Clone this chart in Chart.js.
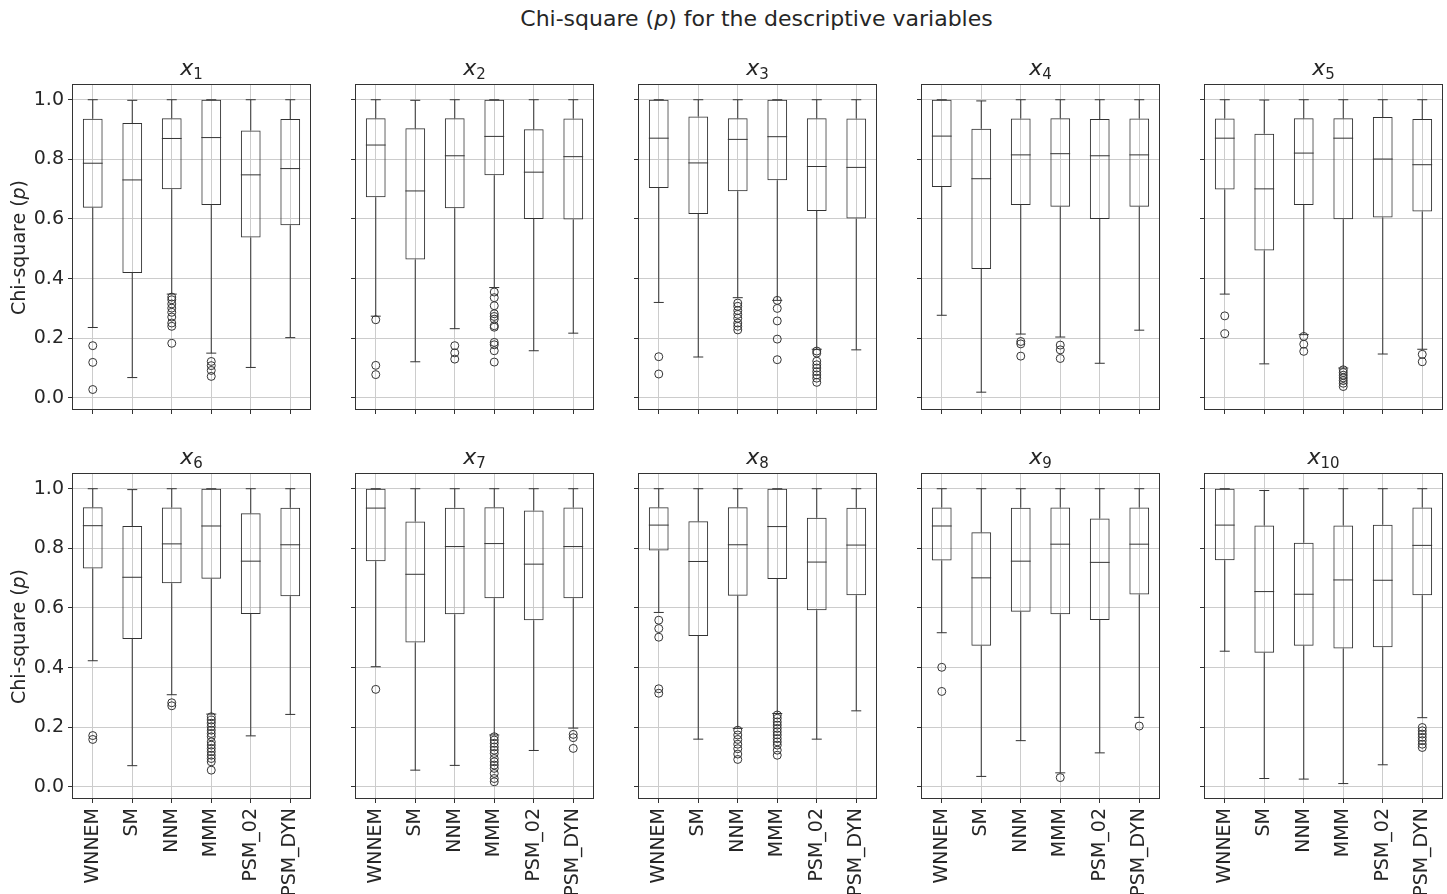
<!DOCTYPE html>
<html>
<head>
<meta charset="utf-8">
<script src="https://cdn.jsdelivr.net/npm/chart.js@4.4.1/dist/chart.umd.min.js"></script>
<style>
body { margin: 0; background: #fff; width: 1447px; height: 894px; position: relative; overflow: hidden; font-family: "DejaVu Sans", sans-serif; color: #262626; }
.panel { position: absolute; }
.sup { position: absolute; left: 0; width: 1513px; top: 8px; text-align: center; font-size: 22px; line-height: 22px; white-space: nowrap; }
.ttl { position: absolute; width: 237px; text-align: center; font-size: 22px; line-height: 22px; white-space: nowrap; }
.ttl sub { font-size: 15px; vertical-align: -4px; line-height: 0; }
.ylab { position: absolute; width: 220px; height: 19px; line-height: 19px; font-size: 19px; text-align: center; transform: rotate(-90deg); white-space: nowrap; }
</style>
</head>
<body>
<div class="sup">Chi-square (<i>p</i>) for the descriptive variables</div>
<div id="root"></div>
<script>
const methods = ['WNNEM', 'SM', 'NNM', 'MMM', 'PSM_02', 'PSM_DYN'];
const panelIdx = ['1', '2', '3', '4', '5', '6', '7', '8', '9', '10'];
const yTicks = [0.0, 0.2, 0.4, 0.6, 0.8, 1.0];

const whiskerHigh = [
  [1.0, 0.998, 1.0, 1.0, 1.0, 1.0],
  [1.0, 0.998, 1.0, 1.0, 1.0, 1.0],
  [1.0, 1.0, 1.0, 1.0, 1.0, 1.0],
  [1.0, 0.996, 1.0, 1.0, 1.0, 1.0],
  [1.0, 0.999, 1.0, 1.0, 1.0, 1.0],
  [1.0, 0.997, 1.0, 1.0, 1.0, 1.0],
  [1.0, 1.0, 1.0, 1.0, 1.0, 1.0],
  [1.0, 1.0, 1.0, 1.0, 1.0, 1.0],
  [1.0, 1.0, 1.0, 1.0, 1.0, 1.0],
  [1.0, 0.994, 1.0, 1.0, 1.0, 1.0]
];
const q3 = [
  [0.936, 0.922, 0.938, 1.0, 0.897, 0.935],
  [0.938, 0.904, 0.938, 1.0, 0.901, 0.937],
  [1.0, 0.944, 0.938, 1.0, 0.938, 0.937],
  [1.0, 0.903, 0.937, 0.938, 0.935, 0.937],
  [0.937, 0.886, 0.938, 0.938, 0.942, 0.935],
  [0.938, 0.875, 0.937, 1.0, 0.918, 0.936],
  [1.0, 0.890, 0.936, 0.938, 0.927, 0.937],
  [0.938, 0.891, 0.938, 1.0, 0.903, 0.936],
  [0.937, 0.854, 0.936, 0.937, 0.900, 0.937],
  [1.0, 0.877, 0.819, 0.877, 0.879, 0.937]
];
const median = [
  [0.787, 0.731, 0.870, 0.873, 0.748, 0.769],
  [0.848, 0.694, 0.812, 0.877, 0.757, 0.809],
  [0.871, 0.788, 0.867, 0.876, 0.776, 0.773],
  [0.878, 0.735, 0.815, 0.819, 0.812, 0.815],
  [0.871, 0.701, 0.821, 0.871, 0.801, 0.782],
  [0.876, 0.703, 0.815, 0.875, 0.757, 0.812],
  [0.935, 0.713, 0.806, 0.816, 0.747, 0.806],
  [0.878, 0.756, 0.812, 0.873, 0.754, 0.811],
  [0.875, 0.701, 0.757, 0.814, 0.753, 0.814],
  [0.878, 0.655, 0.646, 0.694, 0.693, 0.810]
];
const q1 = [
  [0.638, 0.419, 0.700, 0.647, 0.538, 0.579],
  [0.673, 0.464, 0.636, 0.747, 0.600, 0.598],
  [0.704, 0.617, 0.693, 0.730, 0.627, 0.602],
  [0.707, 0.432, 0.647, 0.641, 0.600, 0.641],
  [0.699, 0.494, 0.647, 0.599, 0.605, 0.625],
  [0.732, 0.496, 0.683, 0.698, 0.580, 0.639],
  [0.757, 0.484, 0.579, 0.633, 0.559, 0.633],
  [0.793, 0.506, 0.641, 0.697, 0.592, 0.643],
  [0.759, 0.473, 0.587, 0.579, 0.560, 0.645],
  [0.760, 0.450, 0.473, 0.464, 0.468, 0.643]
];
const whiskerLow = [
  [0.236, 0.068, 0.348, 0.150, 0.102, 0.202],
  [0.274, 0.121, 0.232, 0.370, 0.158, 0.217],
  [0.320, 0.137, 0.336, 0.327, 0.163, 0.161],
  [0.277, 0.019, 0.214, 0.204, 0.116, 0.227],
  [0.348, 0.114, 0.212, 0.100, 0.147, 0.163],
  [0.423, 0.071, 0.309, 0.244, 0.171, 0.243],
  [0.403, 0.056, 0.072, 0.174, 0.122, 0.197],
  [0.585, 0.160, 0.196, 0.246, 0.160, 0.255],
  [0.517, 0.035, 0.155, 0.047, 0.114, 0.233],
  [0.455, 0.028, 0.026, 0.011, 0.074, 0.232]
];
const outliers = [
  [[0.175, 0.119, 0.028], [], [0.338, 0.329, 0.315, 0.301, 0.287, 0.271, 0.251, 0.240, 0.183], [0.122, 0.108, 0.092, 0.072], [], []],
  [[0.262, 0.109, 0.078], [], [0.175, 0.151, 0.130], [0.355, 0.336, 0.309, 0.282, 0.273, 0.264, 0.242, 0.237, 0.186, 0.178, 0.158, 0.120], [], []],
  [[0.138, 0.080], [], [0.318, 0.307, 0.293, 0.280, 0.267, 0.251, 0.240, 0.228], [0.327, 0.300, 0.258, 0.197, 0.128], [0.157, 0.150, 0.123, 0.111, 0.100, 0.088, 0.077, 0.066, 0.052], []],
  [[], [], [0.189, 0.181, 0.140], [0.177, 0.161, 0.132], [], []],
  [[0.275, 0.215], [], [0.206, 0.180, 0.156], [0.094, 0.085, 0.076, 0.067, 0.058, 0.049, 0.038], [], [0.146, 0.121]],
  [[0.172, 0.159], [], [0.282, 0.272], [0.235, 0.224, 0.213, 0.202, 0.190, 0.179, 0.168, 0.151, 0.140, 0.129, 0.118, 0.106, 0.095, 0.084, 0.056], [], []],
  [[0.327], [], [], [0.168, 0.157, 0.146, 0.134, 0.123, 0.112, 0.095, 0.084, 0.073, 0.062, 0.045, 0.028, 0.017], [], [0.176, 0.165, 0.129]],
  [[0.559, 0.531, 0.502, 0.329, 0.314], [], [0.190, 0.174, 0.159, 0.143, 0.128, 0.110, 0.092], [0.241, 0.230, 0.218, 0.207, 0.196, 0.185, 0.174, 0.162, 0.151, 0.140, 0.123, 0.106], [], []],
  [[0.401, 0.320], [], [], [0.031], [], [0.204]],
  [[], [], [], [], [], [0.199, 0.188, 0.177, 0.166, 0.155, 0.143, 0.132]]
];

const yMin = -0.0374, yMax = 1.0494;
const lineCol = '#333333';
const gridCol = '#cccccc';
const txtCol = '#262626';
const font = { family: 'DejaVu Sans', size: 19 };

// frame round the plot area, like matplotlib spines
const framePlugin = {
  id: 'frame',
  afterDatasetsDraw(chart) {
    const a = chart.chartArea, ctx = chart.ctx;
    ctx.save();
    ctx.strokeStyle = lineCol;
    ctx.lineWidth = 1;
    ctx.strokeRect(Math.round(a.left) - 0.5, Math.round(a.top) - 0.5, Math.round(a.right - a.left) + 1, Math.round(a.bottom - a.top) + 1);
    ctx.restore();
  }
};

const root = document.getElementById('root');
const plotW = 237, plotH = 324;

panelIdx.forEach((p, i) => {
  const row = Math.floor(i / 5), col = i % 5;
  const left = 73 + col * 283;
  const top = row === 0 ? 85 : 474;
  const L = col === 0 ? 73 : 12;
  const T = 6, R = 6;
  const B = row === 1 ? 96 : 12;

  const wrap = document.createElement('div');
  wrap.className = 'panel';
  wrap.style.left = (left - L) + 'px';
  wrap.style.top = (top - T) + 'px';
  const cv = document.createElement('canvas');
  cv.width = L + plotW + R;
  cv.height = T + plotH + B;
  wrap.appendChild(cv);
  root.appendChild(wrap);

  const t = document.createElement('div');
  t.className = 'ttl';
  t.style.left = left + 'px';
  t.style.top = (row === 0 ? 57 : 446) + 'px';
  t.innerHTML = '<i>x</i><sub>' + p + '</sub>';
  document.body.appendChild(t);

  if (col === 0) {
    const yl = document.createElement('div');
    yl.className = 'ylab';
    yl.style.left = (18 - 110) + 'px';
    yl.style.top = (top + plotH / 2 - 9.5) + 'px';
    yl.innerHTML = 'Chi-square (<i>p</i>)';
    document.body.appendChild(yl);
  }

  const caps = [];
  const outPts = [];
  methods.forEach((m, j) => {
    caps.push({ x: m, y: whiskerLow[i][j] }, { x: m, y: whiskerHigh[i][j] });
    outliers[i][j].forEach(v => outPts.push({ x: m, y: v }));
  });

  new Chart(cv, {
    type: 'bar',
    data: {
      labels: methods,
      datasets: [
        {
          type: 'bar', order: 5, grouped: false,
          data: methods.map((m, j) => [whiskerLow[i][j], q1[i][j]]),
          backgroundColor: lineCol, borderWidth: 0, barThickness: 1, inflateAmount: 0
        },
        {
          type: 'bar', order: 5, grouped: false,
          data: methods.map((m, j) => [q3[i][j], whiskerHigh[i][j]]),
          backgroundColor: lineCol, borderWidth: 0, barThickness: 1, inflateAmount: 0
        },
        {
          type: 'bar', order: 4, grouped: false,
          data: methods.map((m, j) => [q1[i][j], q3[i][j]]),
          backgroundColor: 'rgba(0,0,0,0)', borderColor: lineCol, borderWidth: 1,
          borderSkipped: false, barPercentage: 0.5, categoryPercentage: 1, inflateAmount: 0
        },
        {
          type: 'line', order: 3, showLine: false,
          data: median[i],
          pointStyle: 'line', pointRadius: 9.9, pointBorderColor: lineCol, pointBorderWidth: 1
        },
        {
          type: 'line', order: 3, showLine: false,
          data: caps,
          pointStyle: 'line', pointRadius: 5, pointBorderColor: lineCol, pointBorderWidth: 1
        },
        {
          type: 'line', order: 2, showLine: false,
          data: outPts,
          pointStyle: 'circle', pointRadius: 4, pointBackgroundColor: 'rgba(0,0,0,0)',
          pointBorderColor: lineCol, pointBorderWidth: 1
        }
      ]
    },
    options: {
      responsive: false,
      animation: false,
      events: [],
      layout: { autoPadding: false, padding: { top: T, right: R, left: 0, bottom: 0 } },
      plugins: { legend: { display: false }, tooltip: { enabled: false } },
      scales: {
        x: {
          type: 'category',
          offset: true,
          afterFit: s => { s.height = B; s.paddingLeft = 0; s.paddingRight = 0; },
          border: { display: false },
          grid: { offset: false, color: gridCol, lineWidth: 1, tickColor: lineCol, tickLength: 5 },
          ticks: {
            display: row === 1, autoSkip: false, maxRotation: 90, minRotation: 90,
            padding: 5, color: txtCol, font: font
          }
        },
        y: {
          min: yMin, max: yMax,
          afterFit: s => { s.width = L; s.paddingTop = 0; s.paddingBottom = 0; },
          afterBuildTicks: s => { s.ticks = yTicks.map(v => ({ value: v })); },
          border: { display: false },
          grid: { color: gridCol, lineWidth: 1, tickColor: lineCol, tickLength: 5 },
          ticks: {
            display: col === 0, padding: 4, color: txtCol, font: font,
            callback: v => Number(v).toFixed(1)
          }
        }
      }
    },
    plugins: [framePlugin]
  });
});
</script>
</body>
</html>
